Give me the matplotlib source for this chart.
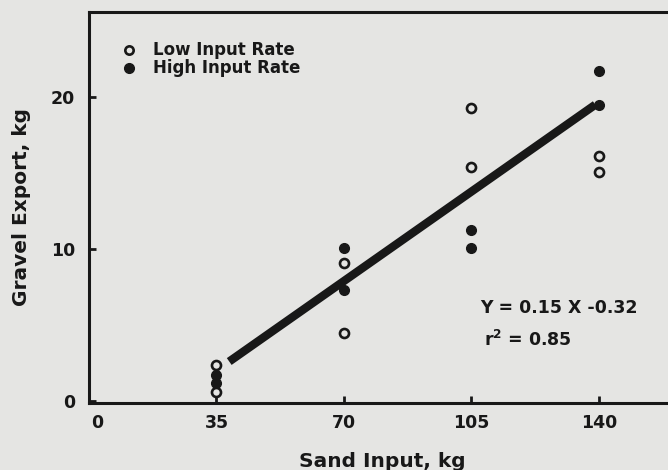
import matplotlib
matplotlib.use("Agg")
import matplotlib.pyplot as plt
import matplotlib.transforms as mtransforms

# values
low_x = [35, 35, 70, 70, 105, 105, 140, 140]
low_y = [2.4, 0.6, 9.1, 4.5, 19.3, 15.4, 16.1, 15.1]

high_x = [35, 35, 70, 70, 105, 105, 140, 140]
high_y = [1.7, 1.2, 10.1, 7.3, 11.25, 10.1, 21.7, 19.5]

# regression line as drawn
fit_x = [38.5, 139]
fit_y = [2.6, 19.5]

xticks = [0, 35, 70, 105, 140]
yticks = [0, 10, 20]

ink = "#181818"
paper = "#e5e5e3"

plt.rcParams["font.family"] = "DejaVu Sans"
plt.rcParams["font.weight"] = "bold"

fig = plt.figure(figsize=(6.68, 4.70), dpi=100, facecolor=paper)
ax = fig.add_axes([89 / 668, 67 / 470, 1 - 89 / 668 + 0.01, 391 / 470])
ax.set_facecolor(paper)

ax.plot(fit_x, fit_y, color=ink, lw=6, solid_capstyle="butt", zorder=2)
ax.plot(low_x, low_y, "o", ls="none", ms=6.5, mfc=paper, mec=ink, mew=1.9, zorder=3)
ax.plot(high_x, high_y, "o", ls="none", ms=7, mfc=ink, mec=ink, zorder=3)

ax.set_xlim(0, 160.8)
ax.set_ylim(-0.13, 25.6)

for side in ["top", "left", "bottom"]:
    ax.spines[side].set_linewidth(2.2)
    ax.spines[side].set_color(ink)
ax.spines["right"].set_visible(False)

ax.set_xticks(xticks)
ax.set_yticks(yticks)
ax.tick_params(direction="in", length=5, width=2, color=ink, labelcolor=ink,
               labelsize=12.5, pad=8)
ax.tick_params(axis="y", pad=10)
# the "0" under the x axis sits a little to the right in the original
lab0 = ax.get_xticklabels()[0]
lab0.set_transform(lab0.get_transform() +
                   mtransforms.ScaledTranslation(8 / 100, 0, fig.dpi_scale_trans))

ax.set_xlabel("Sand Input, kg", fontsize=14.5, fontweight="bold", color=ink, labelpad=14)
ax.set_ylabel("Gravel Export, kg", fontsize=14.5, fontweight="bold", color=ink, labelpad=14)

# legend drawn by hand like the original
ax.plot([11], [23.1], "o", ms=6, mfc=paper, mec=ink, mew=1.9, clip_on=False)
ax.plot([11], [21.9], "o", ms=7, mfc=ink, mec=ink, clip_on=False)
ax.text(17.5, 23.1, "Low Input Rate", fontsize=12, fontweight="bold", color=ink, va="center")
ax.text(17.5, 21.9, "High Input Rate", fontsize=12, fontweight="bold", color=ink, va="center")

ax.text(107.5, 6.1, "Y = 0.15 X -0.32", fontsize=12.5, fontweight="bold", color=ink, va="center")
ax.text(108.5, 4.05, "r$^{\\mathbf{2}}$ = 0.85", fontsize=12.5, fontweight="bold", color=ink, va="center")

fig.savefig("out.png", dpi=100, facecolor=paper)
